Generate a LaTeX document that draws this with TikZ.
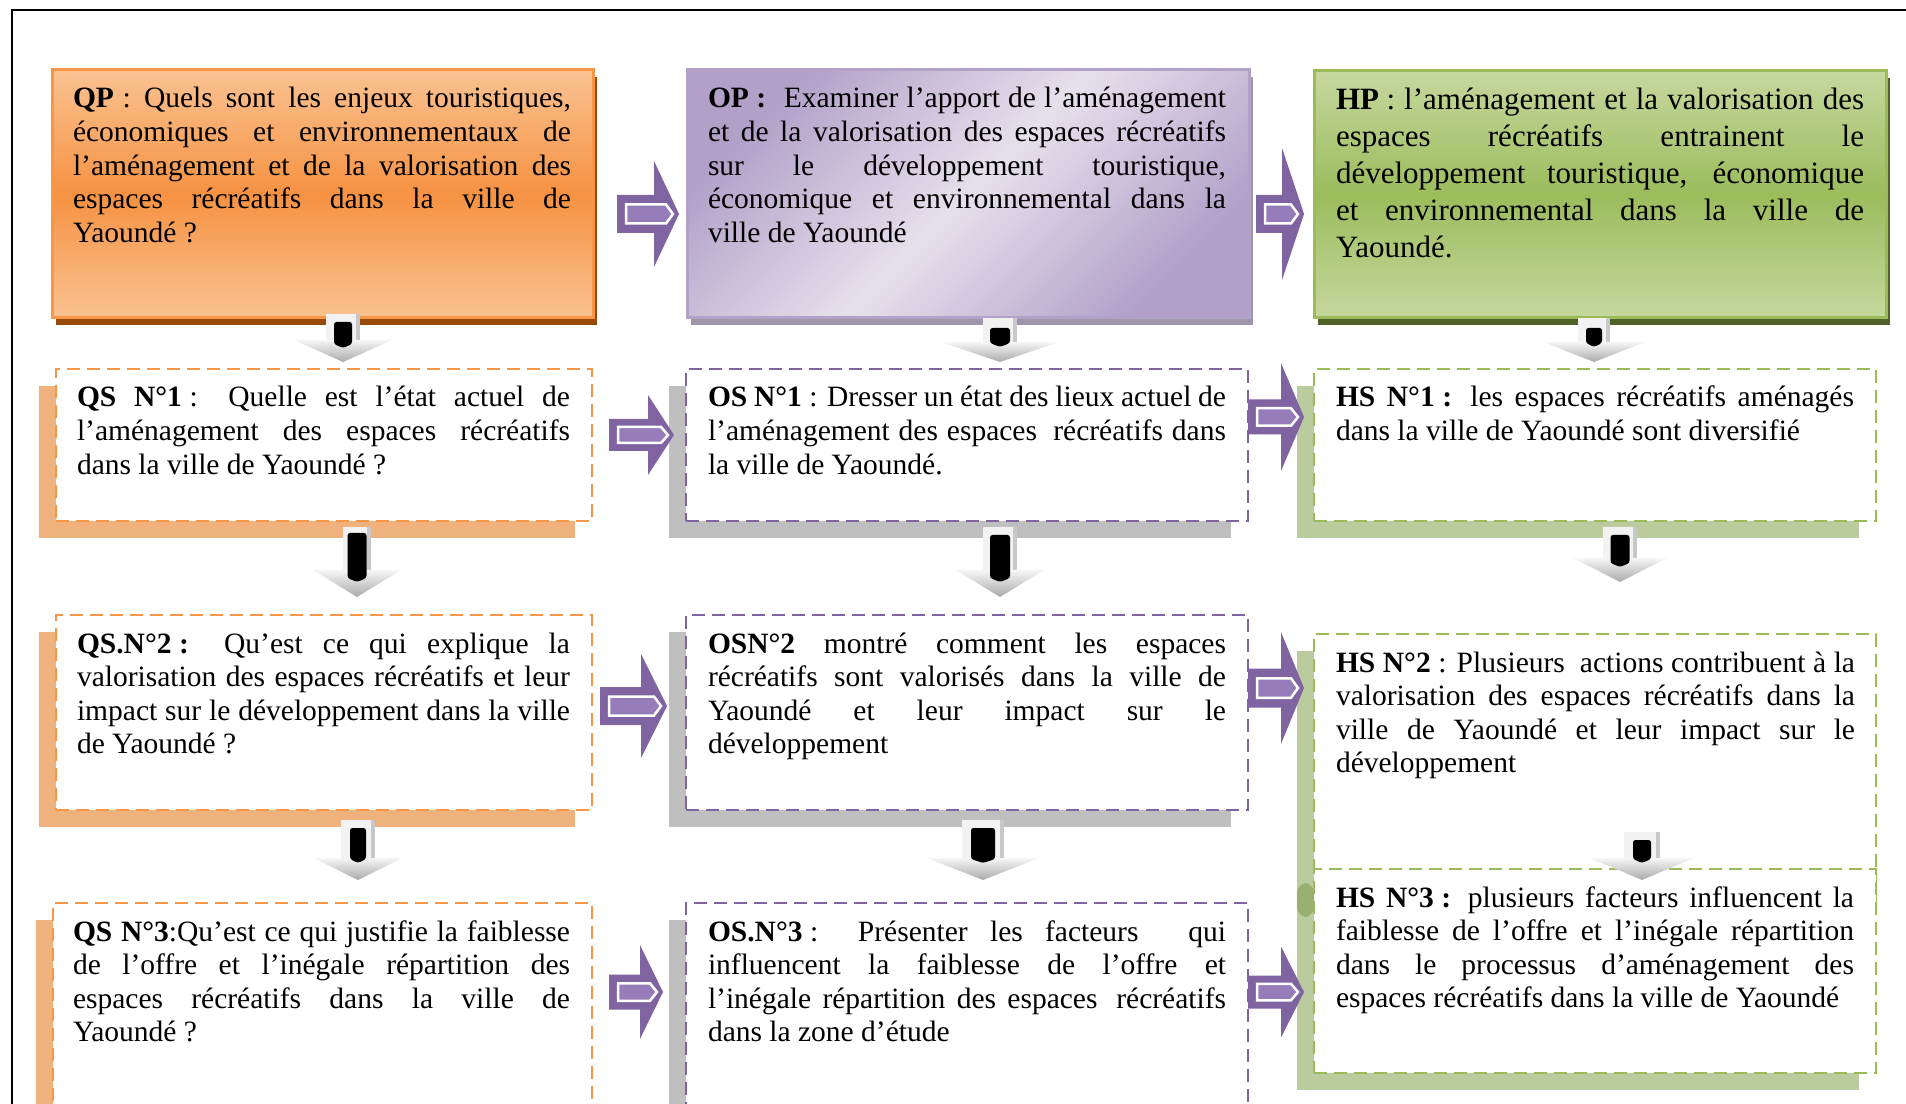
\documentclass[tikz,border=0pt]{standalone}
\usepackage{fontspec}
\setmainfont{Liberation Serif}
\usetikzlibrary{shadows}
\definecolor{qpL}{RGB}{250,194,146}
\definecolor{qpM}{RGB}{246,146,66}
\definecolor{qpB}{RGB}{247,150,70}
\definecolor{qpS}{RGB}{152,72,7}
\definecolor{opL}{RGB}{230,224,236}
\definecolor{opD}{RGB}{178,160,200}
\definecolor{opB}{RGB}{178,162,199}
\definecolor{opS}{RGB}{160,150,172}
\definecolor{hpL}{RGB}{197,216,158}
\definecolor{hpM}{RGB}{156,188,92}
\definecolor{hpB}{RGB}{155,187,89}
\definecolor{hpS}{RGB}{79,98,40}
\definecolor{purp}{RGB}{128,100,162}
\definecolor{purpL}{RGB}{150,124,184}
\definecolor{orD}{RGB}{247,150,70}
\definecolor{orS}{RGB}{240,178,124}
\definecolor{grS}{RGB}{191,191,191}
\definecolor{gnD}{RGB}{155,187,89}
\definecolor{gnS}{RGB}{186,203,157}
\definecolor{gnX}{RGB}{152,176,112}
\definecolor{stemc}{RGB}{242,242,242}
\definecolor{stemedge}{RGB}{200,200,200}
\definecolor{chevT}{RGB}{246,246,246}
\definecolor{chevB}{RGB}{170,170,170}

\newcommand\jl[1]{\makebox[\hsize][s]{\spaceskip=0pt\xspaceskip=0pt\relax #1}\\}
\newcommand\cln{\hspace{3pt}:}
\newcommand\boxnode[6]{\node[#2, minimum width={(#5-#3)*0.4pt}, minimum height={(#6-#4)*0.4pt}] (#1) at (#3,#4) {};}
% L S T C h H
\newcommand\purarrow[6]{%
 \fill[parr] ({#1},{#4-#5}) -- ({#2},{#4-#5}) -- ({#2},{#4-#6}) -- ({#3},{#4}) -- ({#2},{#4+#6}) -- ({#2},{#4+#5}) -- ({#1},{#4+#5}) -- cycle;
 \draw[parrin] ({#1+9},{#4-#5*0.5}) -- ({#3-13},{#4-#5*0.5}) -- ({#3-6},{#4}) -- ({#3-13},{#4+#5*0.5}) -- ({#1+9},{#4+#5*0.5}) -- cycle;
}
% cx top ctop bottom sw cw bw btop bbot
\newcommand\downarr[9]{%
 \fill[stemc] ({#1-#5},{#2}) rectangle ({#1+#5},{#3+1});
 \fill[stemedge] ({#1+#5-4},{#2}) rectangle ({#1+#5},{#3+1});
 \shade[top color=chevT, bottom color=chevB] ({#1-#6},{#3}) -- ({#1+#6},{#3}) -- ({#1},{#4}) -- cycle;
 \fill[black, rounded corners=1pt] ({#1-#7},{#8}) -- ({#1+#7},{#8}) -- ({#1+#7},{#9-4}) -- ({#1},{#9}) -- ({#1-#7},{#9-4}) -- cycle;
}

\tikzset{
 bx/.style={inner sep=0pt, outer sep=0pt, anchor=north west},
 qpbox/.style={bx, draw=qpB, line width=1.2pt, top color=qpL, bottom color=qpL, middle color=qpM,
   general shadow={fill=qpS, shadow xshift=1.6pt, shadow yshift=-2.8pt}},
 opbox/.style={bx, draw=opB, line width=1.2pt, top color=opD, bottom color=opD, middle color=opL, shading angle=45,
   general shadow={fill=opS, shadow xshift=1.6pt, shadow yshift=-2.8pt}},
 hpbox/.style={bx, draw=hpB, line width=1.2pt, top color=hpL, bottom color=hpL, middle color=hpM,
   general shadow={fill=hpS, shadow xshift=1.6pt, shadow yshift=-2.8pt}},
 dbox/.style={bx, fill=white, line width=0.9pt, dash pattern=on 5.2pt off 2.8pt},
 qsbox/.style={dbox, draw=orD, general shadow={fill=orS, shadow xshift=-6.8pt, shadow yshift=-6.8pt}},
 osbox/.style={dbox, draw=purp, general shadow={fill=grS, shadow xshift=-6.8pt, shadow yshift=-6.8pt}},
 hsbox/.style={dbox, draw=gnD, general shadow={fill=gnS, shadow xshift=-6.8pt, shadow yshift=-6.8pt}},
 txt/.style={inner sep=0pt, outer sep=0pt, anchor=base west, align=flush left, font=\fontsize{11.8pt}{13.45pt}\selectfont},
 txtbig/.style={txt, font=\fontsize{12.4pt}{14.8pt}\selectfont},
 parr/.style={fill=purp},
 parrin/.style={draw=white, line width=1pt, fill=purpL},
}

\begin{document}
\begin{tikzpicture}[x=0.4pt, y=-0.4pt]
\useasboundingbox (0,0) rectangle (1906,1104);
\clip (0,0) rectangle (1906,1104);
\fill[white] (0,0) rectangle (1906,1104);
\draw[line width=0.8pt] (12,10) rectangle (1940,1140);

% top boxes
\boxnode{qp}{qpbox}{52}{70}{593}{318}
\boxnode{op}{opbox}{687}{70}{1249}{318}
\boxnode{hp}{hpbox}{1314}{71}{1886}{318}

% dashed boxes
\boxnode{qs1}{qsbox}{56}{369}{592}{521}
\boxnode{qs2}{qsbox}{56}{615}{592}{810}
\boxnode{qs3}{qsbox}{53}{903}{592}{1140}
\boxnode{os1}{osbox}{686}{369}{1248}{521}
\boxnode{os2}{osbox}{686}{615}{1248}{810}
\boxnode{os3}{osbox}{686}{903}{1248}{1140}
\boxnode{hs1}{hsbox}{1314}{369}{1876}{521}
\boxnode{hs2}{hsbox}{1314}{634}{1876}{905}
\boxnode{hs3}{hsbox}{1314}{869}{1876}{1073}
\fill[gnX, rounded corners=4pt] (1297,883) rectangle (1314,917);

% texts
\node[txt, text width=199.2pt] (qpt) at (73,108) {\spaceskip=0pt\xspaceskip=0pt
\jl{\textbf{QP}\hspace{3.5pt}: Quels sont les enjeux touristiques,}%
\jl{économiques et environnementaux de}%
\jl{l’aménagement et de la valorisation des}%
\jl{espaces récréatifs dans la ville de}%
Yaoundé ?};
\node[txt, text width=207.2pt] (opt) at (708,108) {\spaceskip=0pt\xspaceskip=0pt
\jl{\textbf{OP\cln}\hspace{7pt}Examiner l’apport de l’aménagement}%
\jl{et de la valorisation des espaces récréatifs}%
\jl{sur le développement touristique,}%
\jl{économique et environnemental dans la}%
ville de Yaoundé};
\node[txtbig, text width=211.2pt] (hpt) at (1336,110) {\spaceskip=0pt\xspaceskip=0pt
\jl{\textbf{HP}\cln{} l’aménagement et la valorisation des}%
\jl{espaces récréatifs entrainent le}%
\jl{développement touristique, économique}%
\jl{et environnemental dans la ville de}%
Yaoundé.};

\node[txt, text width=197.2pt] (qs1t) at (77,407) {\spaceskip=0pt\xspaceskip=0pt
\jl{\textbf{QS N°1}\cln{} Quelle est l’état actuel de}%
\jl{l’aménagement des espaces récréatifs}%
dans la ville de Yaoundé ?};
\node[txt, text width=197.2pt] (qs2t) at (77,653) {\spaceskip=0pt\xspaceskip=0pt
\jl{\textbf{QS.N°2\cln} Qu’est ce qui explique la}%
\jl{valorisation des espaces récréatifs et leur}%
\jl{impact sur le développement dans la ville}%
de Yaoundé ?};
\node[txt, text width=198.8pt] (qs3t) at (73,941) {\spaceskip=0pt\xspaceskip=0pt
\jl{\textbf{QS N°3}:Qu’est ce qui justifie la faiblesse}%
\jl{de l’offre et l’inégale répartition des}%
\jl{espaces récréatifs dans la ville de}%
Yaoundé ?};

\node[txt, text width=207.2pt] (os1t) at (708,407) {\spaceskip=0pt\xspaceskip=0pt
\jl{\textbf{OS N°1}\cln{} Dresser un état des lieux actuel de}%
\jl{l’aménagement des espaces\hspace{3pt} récréatifs dans}%
la ville de Yaoundé.};
\node[txt, text width=207.2pt] (os2t) at (708,653) {\spaceskip=0pt\xspaceskip=0pt
\jl{\textbf{OSN°2} montré comment les espaces}%
\jl{récréatifs sont valorisés dans la ville de}%
\jl{Yaoundé et leur impact sur le}%
développement};
\node[txt, text width=207.2pt] (os3t) at (708,941) {\spaceskip=0pt\xspaceskip=0pt
\jl{\textbf{OS.N°3}\cln{} Présenter les facteurs\hspace{11pt} qui}%
\jl{influencent la faiblesse de l’offre et}%
\jl{l’inégale répartition des espaces\hspace{3pt} récréatifs}%
dans la zone d’étude};

\node[txt, text width=207.2pt] (hs1t) at (1336,407) {\spaceskip=0pt\xspaceskip=0pt
\jl{\textbf{HS N°1\cln} les espaces récréatifs aménagés}%
dans la ville de Yaoundé sont diversifié};
\node[txt, text width=207.6pt] (hs2t) at (1336,672) {\spaceskip=0pt\xspaceskip=0pt
\jl{\textbf{HS N°2}\cln{} Plusieurs\hspace{3pt} actions contribuent à la}%
\jl{valorisation des espaces récréatifs dans la}%
\jl{ville de Yaoundé et leur impact sur le}%
développement};
\node[txt, text width=207.2pt] (hs3t) at (1336,907) {\spaceskip=0pt\xspaceskip=0pt
\jl{\textbf{HS N°3\cln} plusieurs facteurs influencent la}%
\jl{faiblesse de l’offre et l’inégale répartition}%
\jl{dans le processus d’aménagement des}%
espaces récréatifs dans la ville de Yaoundé};

% purple arrows  L S T C h H
\purarrow{617}{654}{679}{214}{19}{53}
\purarrow{1256}{1282}{1304}{214}{19}{66}
\purarrow{609}{648}{674}{435}{16}{40}
\purarrow{1248}{1281}{1304}{417}{17.5}{54}
\purarrow{600}{641}{667}{706}{19}{52}
\purarrow{1248}{1281}{1304}{688}{19.5}{56}
\purarrow{609}{640}{663}{992}{17.5}{47}
\purarrow{1248}{1281}{1304}{992}{16.5}{45.5}

% down arrows cx top ctop bottom sw cw bw btop bbot
\downarr{343}{314}{340}{362}{17}{49}{9}{322}{348}
\downarr{1000}{318}{342}{362}{17}{59}{10}{328}{347}
\downarr{1594}{318}{342}{362}{16}{51}{8}{328}{347}
\downarr{357}{527}{570}{597}{14}{44}{9.5}{533}{582}
\downarr{1000}{527}{570}{597}{17}{44}{10}{535}{582}
\downarr{1620}{527}{558}{582}{17}{47}{9.5}{535}{567}
\downarr{358}{820}{858}{880}{17}{44}{8}{828}{863}
\downarr{983}{820}{858}{880}{21}{56}{12}{828}{863}
\downarr{1642}{832}{858}{880}{18}{52}{9}{840}{863}
\end{tikzpicture}
\end{document}
